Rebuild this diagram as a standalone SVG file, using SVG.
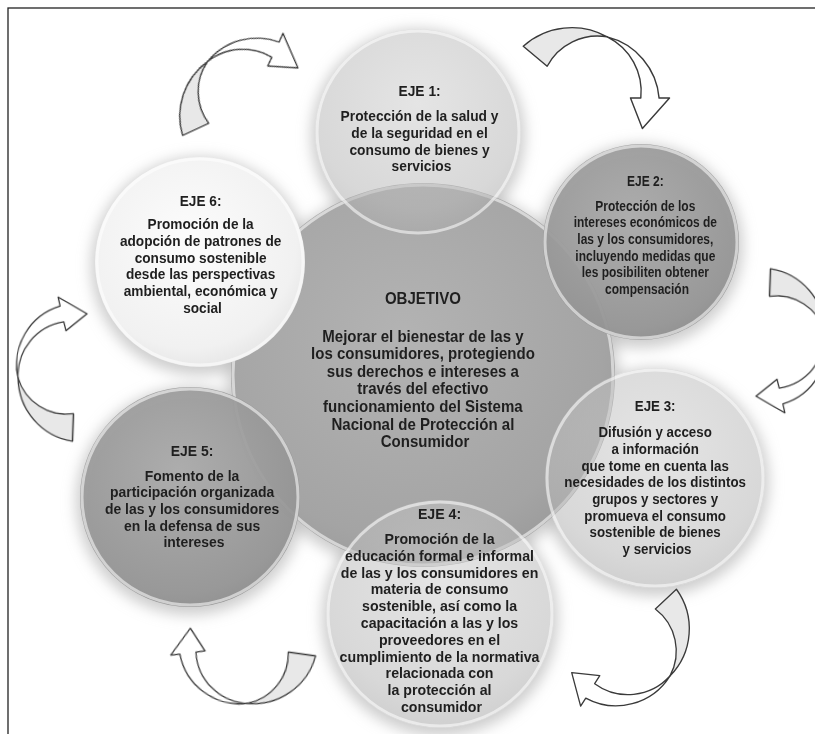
<svg xmlns="http://www.w3.org/2000/svg" width="815" height="734" viewBox="0 0 815 734">
<style>
.t{font-family:"Liberation Sans",Arial,sans-serif;font-weight:bold;font-size:15px;fill:#1f1f1f;text-anchor:middle}
.tc{font-size:16px}
.rim{fill:none;stroke:#fff;stroke-opacity:.55;stroke-width:3}
.sh{fill:#b8b8b8;opacity:.7}
.base{fill:#fff}
.tail{fill:#e8e8e8;stroke:#3a3a3a;stroke-width:1.1;stroke-linejoin:round}
.head{fill:#fff;stroke:#3a3a3a;stroke-width:1.1;stroke-linejoin:round}
</style>
<defs>
<filter id="blur" x="-40%" y="-40%" width="180%" height="180%"><feGaussianBlur stdDeviation="7"/></filter>
<radialGradient id="gCenter" cx="0.45" cy="0.4" r="0.65">
<stop offset="0" stop-color="#b3b3b3"/><stop offset="0.8" stop-color="#a4a4a4"/><stop offset="1" stop-color="#9a9a9a"/>
</radialGradient>
<radialGradient id="gLight" cx="0.5" cy="0.36" r="0.68">
<stop offset="0" stop-color="#cfcfcf"/><stop offset="0.75" stop-color="#b8b8b8"/><stop offset="1" stop-color="#a4a4a4"/>
</radialGradient>
<radialGradient id="gDark" cx="0.45" cy="0.38" r="0.7">
<stop offset="0" stop-color="#aaaaaa"/><stop offset="0.8" stop-color="#949494"/><stop offset="1" stop-color="#888"/>
</radialGradient>
<radialGradient id="gWhite" cx="0.45" cy="0.4" r="0.68">
<stop offset="0" stop-color="#fcfcfc"/><stop offset="0.75" stop-color="#f1f1f1"/><stop offset="1" stop-color="#e0e0e0"/>
</radialGradient>
<g id="arrA">
<path class="tail" d="M62,0 A56,56 0 0 1 8.7,49.2 A44,44 0 0 0 38,0 Z"/>
<path class="head" d="M8.7,49.2 A53,53 0 0 1 -55.1,14.8 L-62.8,16.8 L-49.2,-8.7 L-33.8,9.1 L-41.5,11.1 A47,47 0 0 0 8.7,49.2 Z"/>
</g>
<g id="arrB">
<path class="tail" d="M62,0 A56,56 0 0 1 17.1,47 A44,44 0 0 0 38,0 Z"/>
<path class="head" d="M17.1,47 A53,53 0 0 1 -43.7,36.6 L-49.8,41.8 L-48.9,10.4 L-26.8,22.5 L-32.9,27.6 A47,47 0 0 0 17.1,47 Z"/>
</g>
</defs>
<rect x="0" y="0" width="815" height="734" fill="#fff"/>
<rect x="8" y="8" width="840" height="770" fill="none" stroke="#222" stroke-width="1.3"/>
<g id="shadows">
<g filter="url(#blur)">
<circle class="sh" cx="423" cy="379" r="196"/>
<circle class="sh" cx="418" cy="136" r="107"/>
<circle class="sh" cx="641" cy="246" r="102"/>
<circle class="sh" cx="655" cy="482" r="114"/>
<circle class="sh" cx="440" cy="618" r="118"/>
<circle class="sh" cx="190" cy="501" r="114"/>
<circle class="sh" cx="200" cy="266" r="109"/>
</g>
<circle class="base" cx="418" cy="132" r="103"/>
<circle class="base" cx="655" cy="478" r="110"/>
<circle class="base" cx="440" cy="614" r="114"/>
</g>
<g id="objetivo">
<circle cx="423" cy="375" r="192" fill="url(#gCenter)"/>
<circle class="rim" cx="423" cy="375" r="190"/>
<text class="t tc" transform="translate(425 0) scale(0.94 1)">
<tspan x="0" y="304.3">OBJETIVO</tspan>
<tspan x="0" y="341.7">Mejorar el bienestar de las y</tspan>
<tspan x="0" y="359.3">los consumidores, protegiendo</tspan>
<tspan x="0" y="376.9">sus derechos e intereses a</tspan>
<tspan x="0" y="394.5">través del efectivo</tspan>
<tspan x="0" y="412.1">funcionamiento del Sistema</tspan>
<tspan x="0" y="429.7">Nacional de Protección al</tspan>
<tspan x="0" y="447.3">Consumidor</tspan>
</text>
</g>
<g id="eje1">
<circle cx="418" cy="132" r="103" fill="url(#gLight)" fill-opacity="0.55"/>
<circle class="rim" cx="418" cy="132" r="101"/>
<text class="t" transform="translate(421.5 0) scale(0.92 1)">
<tspan x="0" y="96.5">EJE 1:</tspan>
<tspan x="0" y="121">Protección de la salud y</tspan>
<tspan x="0" y="137.8">de la seguridad en el</tspan>
<tspan x="0" y="154.6">consumo de bienes y</tspan>
<tspan x="0" y="171.4">servicios</tspan>
</text>
</g>
<g id="eje2">
<circle cx="641" cy="242" r="98" fill="url(#gDark)" fill-opacity="0.92"/>
<circle class="rim" cx="641" cy="242" r="96"/>
<text class="t" transform="translate(647 0) scale(0.8 1)">
<tspan x="0" y="186">EJE 2:</tspan>
<tspan x="0" y="210.7">Protección de los</tspan>
<tspan x="0" y="227.4">intereses económicos de</tspan>
<tspan x="0" y="244.1">las y los consumidores,</tspan>
<tspan x="0" y="260.8">incluyendo medidas que</tspan>
<tspan x="0" y="277.5">les posibiliten obtener</tspan>
<tspan x="0" y="294.2">compensación</tspan>
</text>
</g>
<g id="eje3">
<circle cx="655" cy="478" r="110" fill="url(#gLight)" fill-opacity="0.55"/>
<circle class="rim" cx="655" cy="478" r="108"/>
<text class="t" transform="translate(657 0) scale(0.89 1)">
<tspan x="0" y="411">EJE 3:</tspan>
<tspan x="0" y="437.3">Difusión y acceso</tspan>
<tspan x="0" y="454">a información</tspan>
<tspan x="0" y="470.7">que tome en cuenta las</tspan>
<tspan x="0" y="487.4">necesidades de los distintos</tspan>
<tspan x="0" y="504.1">grupos y sectores y</tspan>
<tspan x="0" y="520.8">promueva el consumo</tspan>
<tspan x="0" y="537.5">sostenible de bienes</tspan>
<tspan x="0" y="554.2">y servicios</tspan>
</text>
</g>
<g id="eje4">
<circle cx="440" cy="614" r="114" fill="url(#gLight)" fill-opacity="0.55"/>
<circle class="rim" cx="440" cy="614" r="112"/>
<text class="t" transform="translate(441.5 0) scale(0.945 1)">
<tspan x="0" y="519.3">EJE 4:</tspan>
<tspan x="0" y="544">Promoción de la</tspan>
<tspan x="0" y="560.8">educación formal e informal</tspan>
<tspan x="0" y="577.6">de las y los consumidores en</tspan>
<tspan x="0" y="594.4">materia de consumo</tspan>
<tspan x="0" y="611.2">sostenible, así como la</tspan>
<tspan x="0" y="628">capacitación a las y los</tspan>
<tspan x="0" y="644.8">proveedores en el</tspan>
<tspan x="0" y="661.6">cumplimiento de la normativa</tspan>
<tspan x="0" y="678.4">relacionada con</tspan>
<tspan x="0" y="695.2">la protección al</tspan>
<tspan x="0" y="712">consumidor</tspan>
</text>
</g>
<g id="eje5">
<circle cx="190" cy="497" r="110" fill="url(#gDark)" fill-opacity="0.92"/>
<circle class="rim" cx="190" cy="497" r="108"/>
<text class="t" transform="translate(194 0) scale(0.93 1)">
<tspan x="0" y="456">EJE 5:</tspan>
<tspan x="0" y="480.7">Fomento de la</tspan>
<tspan x="0" y="497.4">participación organizada</tspan>
<tspan x="0" y="514.1">de las y los consumidores</tspan>
<tspan x="0" y="530.8">en la defensa de sus</tspan>
<tspan x="0" y="547.5">intereses</tspan>
</text>
</g>
<g id="eje6">
<circle cx="200" cy="262" r="105" fill="url(#gWhite)"/>
<circle class="rim" cx="200" cy="262" r="103"/>
<text class="t" transform="translate(202.5 0) scale(0.91 1)">
<tspan x="0" y="206">EJE 6:</tspan>
<tspan x="0" y="229.3">Promoción de la</tspan>
<tspan x="0" y="246">adopción de patrones de</tspan>
<tspan x="0" y="262.7">consumo sostenible</tspan>
<tspan x="0" y="279.4">desde las perspectivas</tspan>
<tspan x="0" y="296.1">ambiental, económica y</tspan>
<tspan x="0" y="312.8">social</tspan>
</text>
</g>
<g id="connectors">
<use href="#arrB" transform="translate(250 104) rotate(155) scale(1.2)"/>
<use href="#arrB" transform="translate(585 98) rotate(220) scale(1.3)"/>
<use href="#arrA" transform="translate(768 340) rotate(272) scale(1.15)"/>
<use href="#arrA" transform="translate(622 640) rotate(317) scale(1.2)"/>
<use href="#arrA" transform="translate(245 646) rotate(8) scale(1.15)"/>
<use href="#arrA" transform="translate(75 370) rotate(92) scale(1.15)"/>
</g>
</svg>
